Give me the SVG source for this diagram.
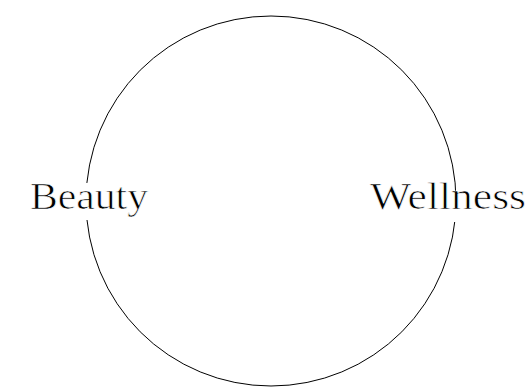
<svg xmlns="http://www.w3.org/2000/svg" width="528" height="387" viewBox="0 0 528 387">
<style>
.ring{fill:none;stroke:#000;stroke-width:1}
.mask{fill:#fff}
.lbl{font-family:"Liberation Serif","Times New Roman",serif;font-size:37px;fill:#000;stroke:#fff;stroke-width:0.7}
</style>
<rect width="528" height="387" fill="#fff"/>
<g id="connectors">
<circle class="ring" cx="271" cy="201" r="185"/>
</g>
<g id="beauty">
<rect class="mask" x="78" y="183" width="18" height="37"/>
<text class="lbl" x="30" y="209" textLength="118" lengthAdjust="spacingAndGlyphs">Beauty</text>
</g>
<g id="wellness">
<rect class="mask" x="446" y="192" width="18" height="30"/>
<text class="lbl" x="370" y="209" textLength="156" lengthAdjust="spacingAndGlyphs">Wellness</text>
</g>
</svg>
